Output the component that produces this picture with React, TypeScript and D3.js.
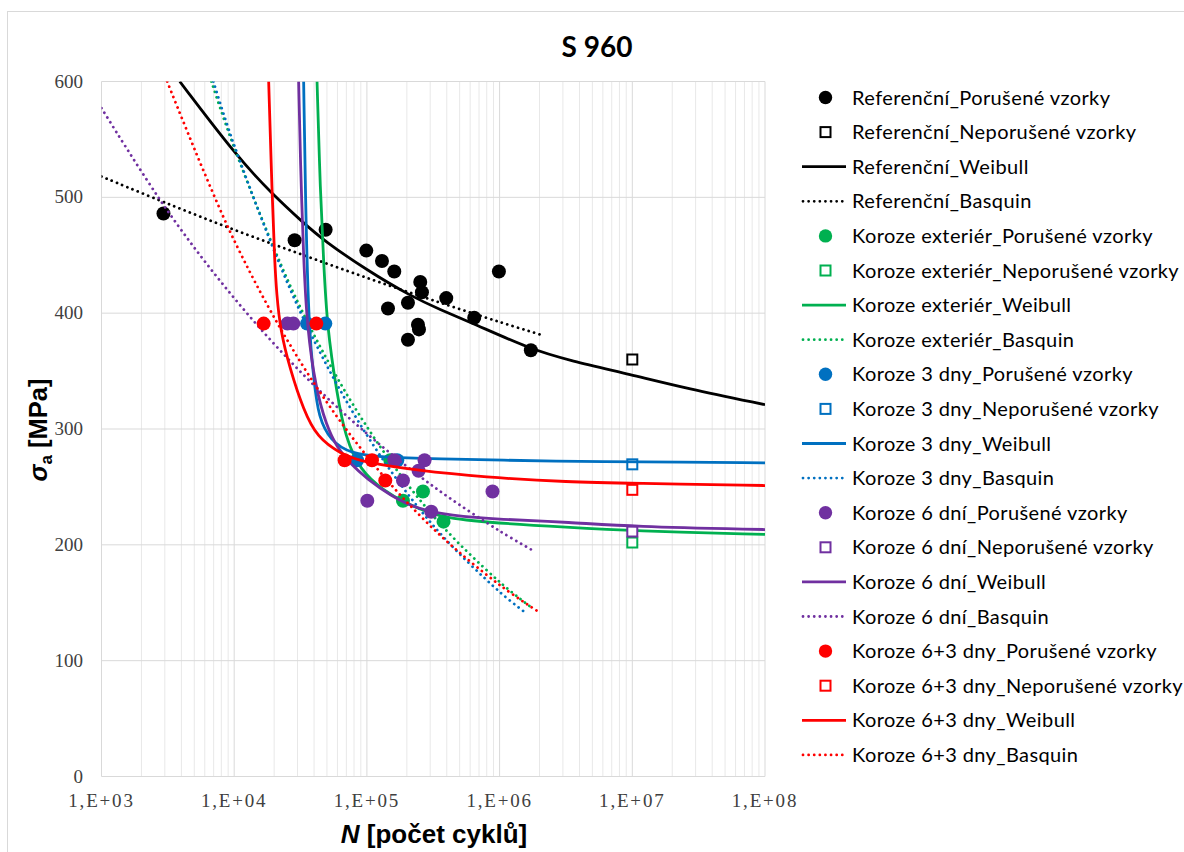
import React from 'react';
import * as d3 from 'd3';

type P = [number, number];

const X_TICKS = [1e3, 1e4, 1e5, 1e6, 1e7, 1e8];
const X_TICK_LABELS = ['1,E+03', '1,E+04', '1,E+05', '1,E+06', '1,E+07', '1,E+08'];
const Y_TICKS = [0, 100, 200, 300, 400, 500, 600];

const GROUPS = ['Referenční', 'Koroze exteriér', 'Koroze 3 dny', 'Koroze 6 dní', 'Koroze 6+3 dny'];
const SUFFIXES = ['Porušené vzorky', 'Neporušené vzorky', 'Weibull', 'Basquin'];
const COLORS = ['#000000', '#00B050', '#0070C0', '#7030A0', '#FF0000'];

// Referenční
const refFailed: P[] = [
  [2931, 486], [28540, 463], [48870, 472], [98970, 454], [129900, 445], [160800, 436],
  [144200, 404], [203900, 409], [252400, 427], [259900, 418], [203900, 377], [242600, 390],
  [246800, 386], [396200, 413], [643800, 396], [987900, 436], [1720000, 368],
];
const refRunout: P[] = [[1e7, 360]];
const refWeibull: P[] = [
  [3888, 600], [10510, 535], [19290, 503], [33200, 478], [46960, 463], [100200, 437],
  [212200, 415], [357000, 403], [636000, 391], [1700000, 369], [3400000, 359],
  [9740000, 347], [25700000, 335], [1e8, 321],
];
const refBasquin: P[] = [
  [1000, 518], [3162, 494.5], [10000, 472], [31623, 451], [100000, 430.5],
  [316228, 411], [1000000, 392.4], [2140000, 380.7],
];

// Koroze exteriér
const extFailed: P[] = [[150100, 273], [264600, 246], [187000, 238], [378000, 220]];
const extRunout: P[] = [[1e7, 202]];
const extWeibull: P[] = [
  [42100, 600], [44580, 503], [47210, 445], [50070, 388], [59560, 330], [68770, 293],
  [89200, 264], [133600, 247], [189000, 237], [337200, 224], [752400, 219.5],
  [3400000, 215], [9740000, 212], [1e8, 209],
];
const extBasquin: P[] = [
  [6734, 600], [10000, 543], [31623, 404.6], [100000, 302], [316228, 225],
  [1000000, 168], [1780000, 145],
];

// Koroze 3 dny
const d3Failed: P[] = [[35400, 391], [48600, 391], [84240, 273], [169400, 273]];
const d3Runout: P[] = [[1e7, 269.5]];
const d3Weibull: P[] = [
  [33370, 600], [34370, 502], [36390, 388], [40000, 340], [43280, 310], [53020, 290],
  [74990, 278.6], [133600, 275.7], [267300, 274.3], [3420000, 272], [9740000, 271.7], [1e8, 270.8],
];
const d3Basquin: P[] = [
  [6973, 600], [10000, 545], [31623, 400.7], [100000, 294.7], [316228, 216.7],
  [1000000, 159.4], [1606000, 140.5],
];

// Koroze 6 dní
const d6Failed: P[] = [
  [25160, 391], [27910, 391], [160800, 273], [272000, 273], [245100, 264], [187000, 255.5],
  [884000, 246], [100700, 238], [305400, 228.5],
];
const d6Runout: P[] = [[1e7, 211.5]];
const d6Weibull: P[] = [
  [30600, 600], [31510, 532], [33370, 445], [35400, 388], [41000, 336], [49460, 303],
  [59540, 284], [74990, 270], [100200, 257], [150100, 242.6], [238400, 231], [424600, 225.3],
  [1010000, 221.9], [3400000, 219.5], [9740000, 215.8], [1e8, 213.2],
];
const d6Basquin: P[] = [
  [1000, 577], [3162, 488], [10000, 413], [31623, 349.4], [100000, 296],
  [316228, 250.5], [1000000, 212], [1853000, 194],
];

// Koroze 6+3 dny
const d63Failed: P[] = [[16680, 391], [41590, 391], [67920, 273], [109200, 273], [137600, 255.5]];
const d63Runout: P[] = [[1e7, 247.5]];
const d63Weibull: P[] = [
  [18190, 600], [19290, 503], [20180, 445], [20860, 417], [22300, 385], [26300, 352],
  [33400, 316], [42100, 293], [63050, 278.6], [94450, 271.3], [238400, 264.2], [756500, 258.4],
  [3400000, 254.1], [9740000, 253.2], [1e8, 251.2],
];
const d63Basquin: P[] = [
  [3126, 600], [10000, 462.8], [31623, 357.8], [100000, 276.6], [316228, 213.9],
  [1000000, 165.4], [2020000, 141.3],
];

const SERIES = [
  { failed: refFailed, runout: refRunout, weibull: refWeibull, basquin: refBasquin },
  { failed: extFailed, runout: extRunout, weibull: extWeibull, basquin: extBasquin },
  { failed: d3Failed, runout: d3Runout, weibull: d3Weibull, basquin: d3Basquin },
  { failed: d6Failed, runout: d6Runout, weibull: d6Weibull, basquin: d6Basquin },
  { failed: d63Failed, runout: d63Runout, weibull: d63Weibull, basquin: d63Basquin },
];

const W = 1184;
const H = 852;
const PL = 101.5, PR = 765, PT = 81.5, PB = 776.5;

const LEGEND_FONT = 'Lato, "Open Sans", sans-serif';
const SERIF = '"Liberation Serif", "Times New Roman", serif';
const SANS = '"Liberation Sans", Arial, sans-serif';

export default function App() {
  const x = d3.scaleLog().domain([1e3, 1e8]).range([PL, PR]);
  const y = d3.scaleLinear().domain([0, 600]).range([PB, PT]);
  const smooth = d3
    .line<P>()
    .x((d) => x(d[0]))
    .y((d) => y(d[1]))
    .curve(d3.curveBasis);
  const line = d3
    .line<P>()
    .x((d) => x(d[0]))
    .y((d) => y(d[1]))
    .curve(d3.curveCatmullRom.alpha(0.5));

  const minor: number[] = [];
  for (let e = 3; e < 8; e++) for (let k = 2; k <= 9; k++) minor.push(k * Math.pow(10, e));

  const dotted = { strokeDasharray: '0.01 5.6', strokeLinecap: 'round' as const, strokeWidth: 2.8 };

  const legendItems: { label: string; color: string; kind: number }[] = [];
  GROUPS.forEach((g, gi) =>
    SUFFIXES.forEach((s, si) => legendItems.push({ label: `${g}_${s}`, color: COLORS[gi], kind: si }))
  );
  const legY0 = 97.5;
  const legDy = 34.6;

  return (
    <svg
      width={W}
      height={H}
      style={{ position: 'absolute', left: 0, top: 0, background: '#fff' }}
      xmlns="http://www.w3.org/2000/svg"
    >
      <defs>
        <clipPath id="plotClip">
          <rect x={PL} y={PT} width={PR - PL} height={PB - PT} />
        </clipPath>
      </defs>
      <rect x={0} y={0} width={W} height={H} fill="#fff" />
      <rect x={7.5} y={11.5} width={1180} height={850} fill="none" stroke="#d9d9d9" strokeWidth={1} />

      {/* gridlines */}
      {minor.map((v) => (
        <line key={'m' + v} x1={x(v)} x2={x(v)} y1={PT} y2={PB} stroke="#e8e8e8" strokeWidth={1} />
      ))}
      {Y_TICKS.map((v) => (
        <line key={'h' + v} x1={PL} x2={PR} y1={y(v)} y2={y(v)} stroke="#d9d9d9" strokeWidth={1} />
      ))}
      {X_TICKS.map((v) => (
        <line key={'v' + v} x1={x(v)} x2={x(v)} y1={PT} y2={PB} stroke="#d9d9d9" strokeWidth={1} />
      ))}

      {/* tick labels */}
      {Y_TICKS.map((v) => (
        <text key={'yl' + v} x={83} y={y(v) + 6} textAnchor="end" fontFamily={SERIF} fontSize={19} fill="#404040">
          {v}
        </text>
      ))}
      {X_TICKS.map((v, i) => (
        <text
          key={'xl' + v}
          x={x(v)}
          y={807}
          textAnchor="middle"
          fontFamily={SERIF}
          fontSize={19}
          letterSpacing={1.8}
          fill="#404040"
        >
          {X_TICK_LABELS[i]}
        </text>
      ))}

      {/* title */}
      <text x={597} y={57} textAnchor="middle" fontFamily={LEGEND_FONT} fontWeight="bold" fontSize={28} fill="#000">
        S 960
      </text>

      {/* axis titles */}
      <text x={434} y={843} textAnchor="middle" fontFamily={SANS} fontWeight="bold" fontSize={26} fill="#000">
        <tspan fontStyle="italic">N</tspan> [počet cyklů]
      </text>
      <text
        transform="translate(47,430) rotate(-90)"
        textAnchor="middle"
        fontFamily={SANS}
        fontWeight="bold"
        fontSize={25.5}
        fill="#000"
      >
        <tspan fontStyle="italic">σ</tspan>
        <tspan fontSize={17} dy={5}>a</tspan>
        <tspan dy={-5}> [MPa]</tspan>
      </text>

      {/* series */}
      <g clipPath="url(#plotClip)">
        {SERIES.map((s, i) => {
          const c = COLORS[i];
          return (
            <g key={'s' + i}>
              {s.failed.map((d, j) => (
                <circle key={'f' + j} cx={x(d[0])} cy={y(d[1])} r={7} fill={c} />
              ))}
              {s.runout.map((d, j) => (
                <rect
                  key={'r' + j}
                  x={x(d[0]) - 5}
                  y={y(d[1]) - 5}
                  width={10}
                  height={10}
                  fill="#fff"
                  stroke={c}
                  strokeWidth={2}
                />
              ))}
              <path d={smooth(s.weibull) || ''} fill="none" stroke={c} strokeWidth={2.8} />
              <path d={line(s.basquin) || ''} fill="none" stroke={c} {...dotted} />
            </g>
          );
        })}
      </g>

      {/* legend */}
      {legendItems.map((it, i) => {
        const cy = legY0 + i * legDy;
        let marker: React.ReactNode = null;
        if (it.kind === 0) marker = <circle cx={825.5} cy={cy} r={6.7} fill={it.color} />;
        else if (it.kind === 1)
          marker = (
            <rect x={820.5} y={cy - 5} width={10} height={10} fill="#fff" stroke={it.color} strokeWidth={2} />
          );
        else if (it.kind === 2)
          marker = <line x1={802} x2={846} y1={cy} y2={cy} stroke={it.color} strokeWidth={2.8} />;
        else marker = <line x1={803} x2={846} y1={cy} y2={cy} stroke={it.color} {...dotted} />;
        return (
          <g key={'lg' + i}>
            {marker}
            <text x={852} y={cy + 7} fontFamily={LEGEND_FONT} fontSize={20} letterSpacing={0.4} fill="#000">
              {it.label}
            </text>
          </g>
        );
      })}
    </svg>
  );
}
